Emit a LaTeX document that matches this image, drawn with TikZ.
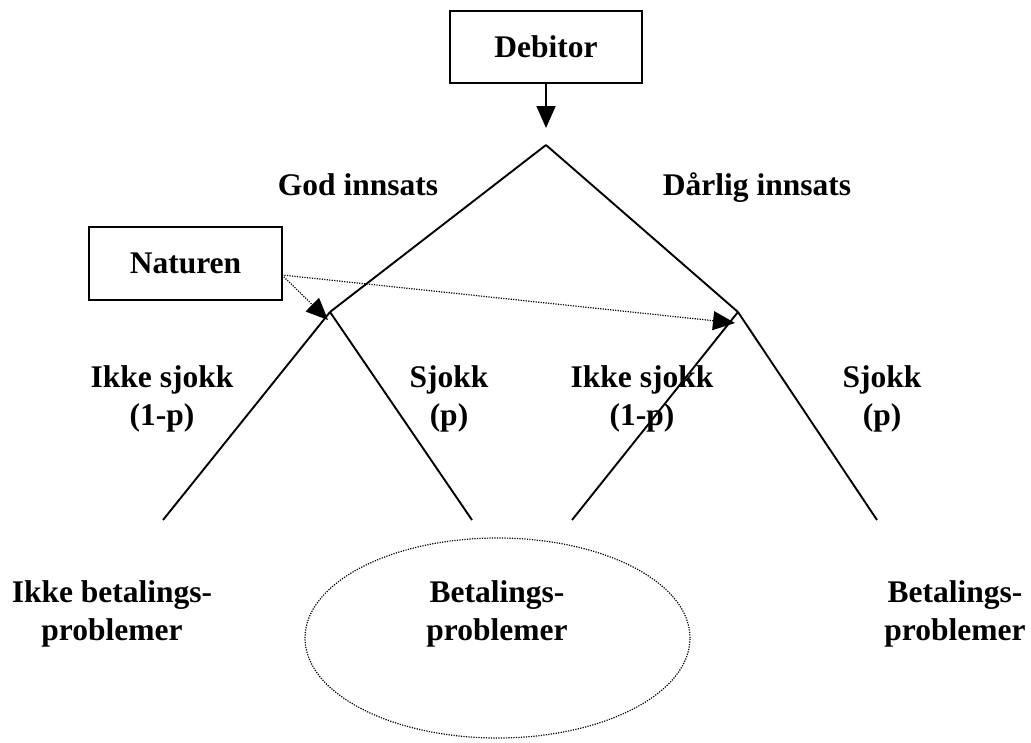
\documentclass[tikz,border=0pt]{standalone}
\usepackage{fontspec}
\setmainfont{Liberation Serif}
\usetikzlibrary{arrows.meta}

\begin{document}
\begin{tikzpicture}[x=1pt, y=-1pt, line width=1.9pt,
   font=\fontsize{31.5}{38}\selectfont\bfseries,
   tip/.style={-{Triangle[length=22pt, width=19pt]}},
   dots/.style={line width=1.2pt, dash pattern=on 1.2pt off 1.3pt}]
   \useasboundingbox (0,0) rectangle (1031,742);
   % boxes
   \node(debitor) at (546,47) [shape = rectangle, draw, minimum width=192, minimum height=72] {Debitor};
   \node(naturen) at (185.5,263.5) [shape = rectangle, draw, minimum width=193, minimum height=73] {Naturen};
   % tree
   \coordinate(top) at (546,145);
   \coordinate(god) at (330,312);
   \coordinate(darlig) at (738,312);
   \coordinate(leafa) at (163,520);
   \coordinate(leafb) at (472,520);
   \coordinate(leafc) at (572,520);
   \coordinate(leafd) at (877,520);
   \coordinate(nout) at (282,275);
   \coordinate(gtip) at (328,320);
   \coordinate(dtip) at (735,323);
   \draw [tip] (debitor) to (546,128) ;
   \draw (top) to (god) ;
   \draw (top) to (darlig) ;
   \draw (god) to (leafa) ;
   \draw (god) to (leafb) ;
   \draw (darlig) to (leafc) ;
   \draw (darlig) to (leafd) ;
   \draw [dots, tip] (nout) to (gtip) ;
   \draw [dots, tip] (nout) to (dtip) ;
   % labels
   \node(godlbl) at (358,195) [anchor=base] {God innsats};
   \node(darliglbl) at (757,195) [anchor=base] {Dårlig innsats};
   \node(ikkea) at (162,425) [anchor=base, align=center] {Ikke sjokk\\(1-p)};
   \node(sjokka) at (449,425) [anchor=base, align=center] {Sjokk\\(p)};
   \node(ikkeb) at (642,425) [anchor=base, align=center] {Ikke sjokk\\(1-p)};
   \node(sjokkb) at (882,425) [anchor=base, align=center] {Sjokk\\(p)};
   \node(ikkebet) at (112,640) [anchor=base, align=center] {Ikke betalings-\\problemer};
   \node(betmid) at (497,640) [anchor=base, align=center] {Betalings-\\problemer};
   \node(betright) at (955,640) [anchor=base, align=center] {Betalings-\\problemer};
   % ring
   \draw [dots] (497.5,638) ellipse [x radius=192.5pt, y radius=100pt];
\end{tikzpicture}
\end{document}
